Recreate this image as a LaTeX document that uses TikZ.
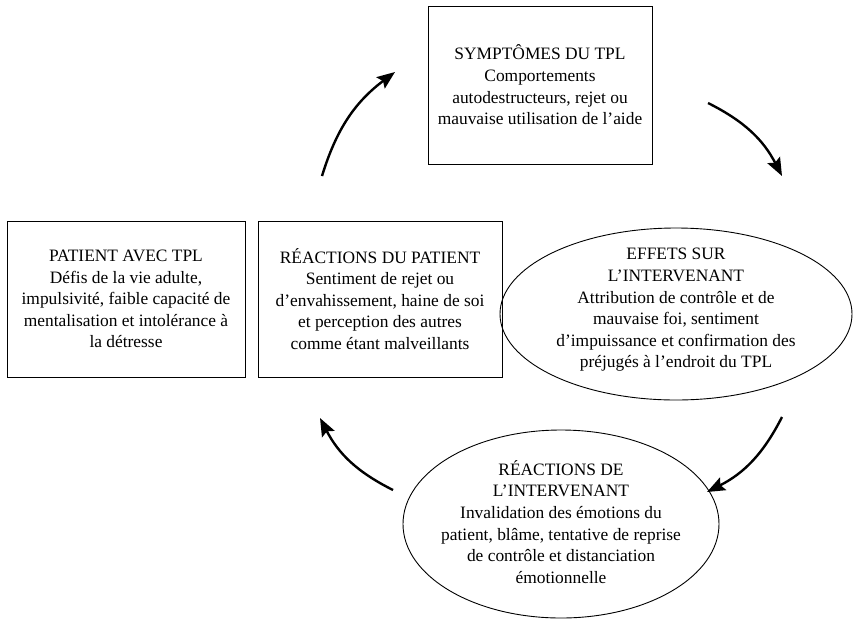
\documentclass[tikz,border=0pt]{standalone}
\usepackage{fontspec}
\setmainfont{Liberation Serif}
\usetikzlibrary{arrows.meta,shapes.geometric}
\begin{document}
\begin{tikzpicture}[x=1pt,y=-1pt,
  txt/.style={align=center,inner sep=0pt,font=\fontsize{17.4}{21.6}\selectfont},
  box/.style={draw,line width=0.9pt,txt},
  ell/.style={draw,ellipse,line width=0.9pt,inner sep=0pt},
  cyc/.style={line width=2.4pt,-{Stealth[length=18pt,width=14pt,inset=3pt]},bend left=18}]
\useasboundingbox (0,0) rectangle (856,638);
\node[box,minimum width=224pt,minimum height=158pt] (sym) at (540,85)
  {SYMPTÔMES DU TPL\\Comportements\\autodestructeurs, rejet ou\\mauvaise utilisation de l’aide};
\node[box,minimum width=238pt,minimum height=156pt] (pat) at (126,299)
  {PATIENT AVEC TPL\\Défis de la vie adulte,\\impulsivité, faible capacité de\\mentalisation et intolérance à\\la détresse};
\node[box,minimum width=244pt,minimum height=156pt] (rp) at (380,299)
  {RÉACTIONS DU PATIENT\\Sentiment de rejet ou\\d’envahissement, haine de soi\\et perception des autres\\comme étant malveillants};
\node[ell,minimum width=352pt,minimum height=172pt] (eff) at (676,314) {};
\node[txt] (effT) at (676,310)
  {EFFETS SUR\\L’INTERVENANT\\Attribution de contrôle et de\\mauvaise foi, sentiment\\d’impuissance et confirmation des\\préjugés à l’endroit du TPL};
\node[ell,minimum width=316pt,minimum height=188pt] (ri) at (561,524) {};
\node[txt] (riT) at (561,522)
  {RÉACTIONS DE\\L’INTERVENANT\\Invalidation des émotions du\\patient, blâme, tentative de reprise\\de contrôle et distanciation\\émotionnelle};
\coordinate (a1s) at (322,176); \coordinate (a1e) at (395,72);
\coordinate (a2s) at (708,103); \coordinate (a2e) at (782,176);
\coordinate (a3s) at (782,417); \coordinate (a3e) at (707,492);
\coordinate (a4s) at (393,490); \coordinate (a4e) at (320,418);
\draw[cyc] (a1s) to (a1e);
\draw[cyc] (a2s) to (a2e);
\draw[cyc] (a3s) to (a3e);
\draw[cyc] (a4s) to (a4e);
\end{tikzpicture}
\end{document}
